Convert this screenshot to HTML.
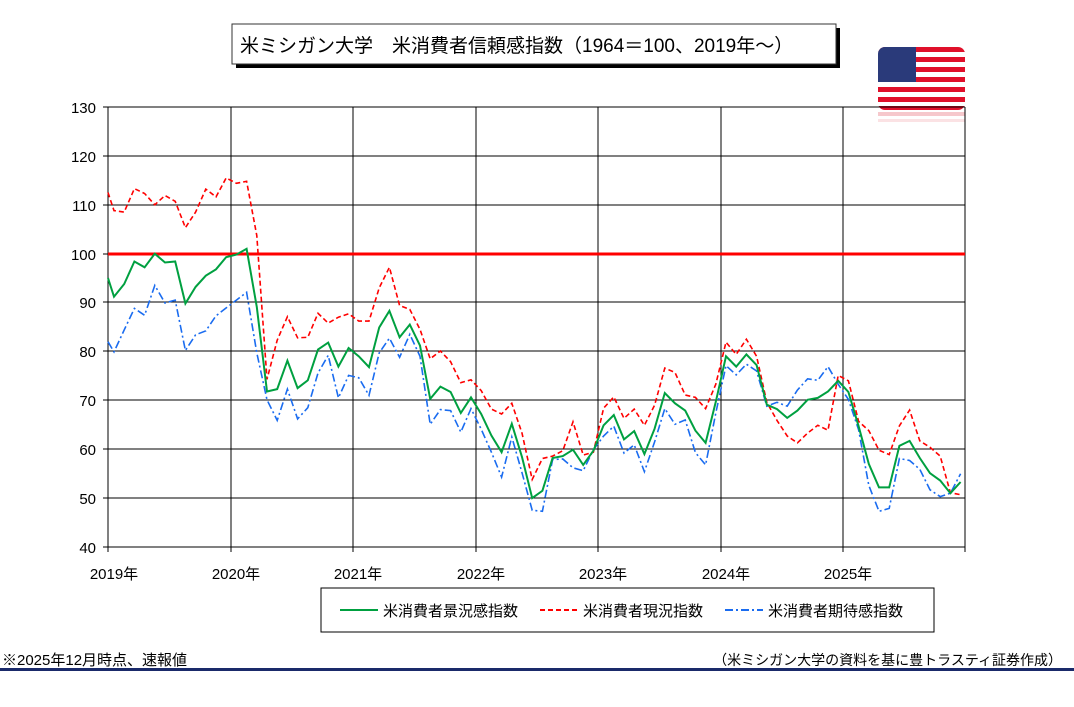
<!DOCTYPE html>
<html><head><meta charset="utf-8"><style>
body{margin:0;background:#fff;}
svg{display:block;font-family:"Liberation Sans","Noto Sans CJK JP",sans-serif;}
</style></head><body>
<svg width="1074" height="707" viewBox="0 0 1074 707">
<rect x="236" y="28" width="604" height="40" fill="#000"/>
<rect x="232" y="24" width="604" height="40" fill="#fff" stroke="#333" stroke-width="1"/>
<text x="240" y="52" font-size="19" fill="#000">米ミシガン大学　米消費者信頼感指数（1964＝100、2019年～）</text>
<!-- flag -->
<g>
<clipPath id="fc"><rect x="878" y="47" width="87" height="63" rx="7"/></clipPath>
<g clip-path="url(#fc)">
<rect x="878" y="47" width="87" height="63" fill="#fff"/>
<g fill="#e0102a">
<rect x="878" y="47" width="87" height="5"/><rect x="878" y="57" width="87" height="5"/><rect x="878" y="67" width="87" height="5"/><rect x="878" y="77" width="87" height="5"/><rect x="878" y="87" width="87" height="5"/><rect x="878" y="97" width="87" height="5"/><rect x="878" y="106" width="87" height="5"/>
</g>
<rect x="878" y="47" width="38" height="35" fill="#2a3a7a"/>
</g>
<rect x="878" y="112" width="87" height="4" fill="#f6c8cc"/>
<rect x="878" y="119" width="87" height="3" fill="#fbe2e4"/>
</g>
<!-- plot -->
<g stroke="#000" stroke-width="1" fill="none">
<path d="M108 107H965M108 156H965M108 205H965M108 254H965M108 302H965M108 351H965M108 400H965M108 449H965M108 498H965"/>
<path d="M231 107V547M353 107V547M476 107V547M598 107V547M721 107V547M843 107V547M965 107V547"/>
<path d="M108 107V547H965"/>
<path d="M103 107H108M103 156H108M103 205H108M103 254H108M103 302H108M103 351H108M103 400H108M103 449H108M103 498H108M103 547H108"/>
<path d="M108 547V552M231 547V552M353 547V552M476 547V552M598 547V552M721 547V552M843 547V552M965 547V552"/>
</g>
<g font-size="15" fill="#000" text-anchor="end">
<text x="96" y="113">130</text><text x="96" y="162">120</text><text x="96" y="211">110</text><text x="96" y="260">100</text><text x="96" y="308">90</text><text x="96" y="357">80</text><text x="96" y="406">70</text><text x="96" y="455">60</text><text x="96" y="504">50</text><text x="96" y="553">40</text>
</g>
<g font-size="15" fill="#000" text-anchor="middle">
<text x="114" y="579">2019年</text><text x="236" y="579">2020年</text><text x="358" y="579">2021年</text><text x="481" y="579">2022年</text><text x="603" y="579">2023年</text><text x="726" y="579">2024年</text><text x="848" y="579">2025年</text>
</g>
<line x1="108" y1="254" x2="965" y2="254" stroke="#f00" stroke-width="3"/>
<g id="series"></g>
<rect x="321" y="588" width="613" height="44" fill="#fff" stroke="#000"/>
<line x1="340" y1="610" x2="378" y2="610" stroke="#00a040" stroke-width="2"/>
<text x="383" y="616" font-size="15">米消費者景況感指数</text>
<line x1="540" y1="610" x2="578" y2="610" stroke="#f00" stroke-width="2" stroke-dasharray="5,3"/>
<text x="583" y="616" font-size="15">米消費者現況指数</text>
<line x1="725" y1="610" x2="763" y2="610" stroke="#1a6cf0" stroke-width="2" stroke-dasharray="8,3,2,3"/>
<text x="768" y="616" font-size="15">米消費者期待感指数</text>
<text x="2" y="665" font-size="15">※2025年12月時点、速報値</text>
<text x="1062" y="665" font-size="14" text-anchor="end">（米ミシガン大学の資料を基に豊トラスティ証券作成）</text>
<rect x="0" y="668" width="1074" height="3" fill="#1a2a6a"/>
</svg>
<script>
var s=[95,91.2,93.8,98.4,97.2,100.0,98.2,98.4,89.8,93.2,95.5,96.8,99.3,99.8,101.0,89.1,71.8,72.3,78.1,72.5,74.1,80.4,81.8,76.9,80.7,79.0,76.8,84.9,88.3,82.9,85.5,81.2,70.3,72.8,71.7,67.4,70.6,67.2,62.8,59.4,65.2,58.4,50.0,51.5,58.2,58.6,59.9,56.8,59.7,64.9,67.0,62.0,63.7,59.0,64.2,71.5,69.4,67.9,63.8,61.3,69.7,79.0,76.9,79.4,77.2,69.1,68.2,66.4,67.9,70.1,70.5,71.8,74.0,71.7,64.7,57.0,52.2,52.2,60.7,61.7,58.2,55.1,53.6,51.0,53.3];
var c=[112.5,108.8,108.5,113.3,112.3,110.0,111.9,110.7,105.3,108.5,113.2,111.6,115.5,114.4,114.8,103.7,74.3,82.3,87.1,82.8,82.9,87.8,85.8,87.0,87.7,86.2,86.2,93.0,97.2,89.4,88.6,84.5,78.5,80.1,77.9,73.6,74.2,72.0,68.2,67.2,69.4,63.3,53.8,58.1,58.6,59.7,65.6,58.8,59.4,68.4,70.7,66.3,68.2,64.9,69.0,76.6,75.7,71.1,70.6,68.3,73.3,81.9,79.4,82.5,79.0,69.6,65.9,62.7,61.3,63.3,64.9,63.9,75.1,74.0,65.7,63.8,59.8,58.9,64.8,68.0,61.7,60.4,58.6,51.1,50.7];
var e=[82,79.9,84.4,88.8,87.4,93.5,89.9,90.5,80.2,83.4,84.2,87.3,88.9,90.5,92.1,79.7,70.1,65.9,72.3,66.2,68.5,75.6,79.2,70.5,75.1,74.6,71.0,79.7,82.7,78.8,83.5,79.0,65.1,68.1,67.9,63.5,68.3,64.1,59.4,54.3,62.5,55.2,47.5,47.3,57.9,58.0,56.2,55.6,59.9,62.7,64.7,59.2,60.9,55.4,61.5,68.3,65.1,66.0,59.3,56.8,67.4,77.1,75.2,77.4,76.0,68.8,69.6,68.8,72.1,74.4,74.1,76.9,73.3,70.2,64.0,52.6,47.3,47.9,58.1,57.7,55.9,51.7,50.3,51.0,55.0];
function pts(a){return a.map(function(v,i){var x=i==0?108:114+(i-1)*10.2;return x.toFixed(1)+","+(547-(v-40)*4.889).toFixed(1);}).join(" ");}
var g=document.getElementById("series");
g.innerHTML='<polyline fill="none" stroke="#1a6cf0" stroke-width="1.6" stroke-dasharray="8,3,2,3" points="'+pts(e)+'"/>'+
'<polyline fill="none" stroke="#f00" stroke-width="1.6" stroke-dasharray="5,3" points="'+pts(c)+'"/>'+
'<polyline fill="none" stroke="#00a040" stroke-width="2" points="'+pts(s)+'"/>';
</script>
</body></html>
